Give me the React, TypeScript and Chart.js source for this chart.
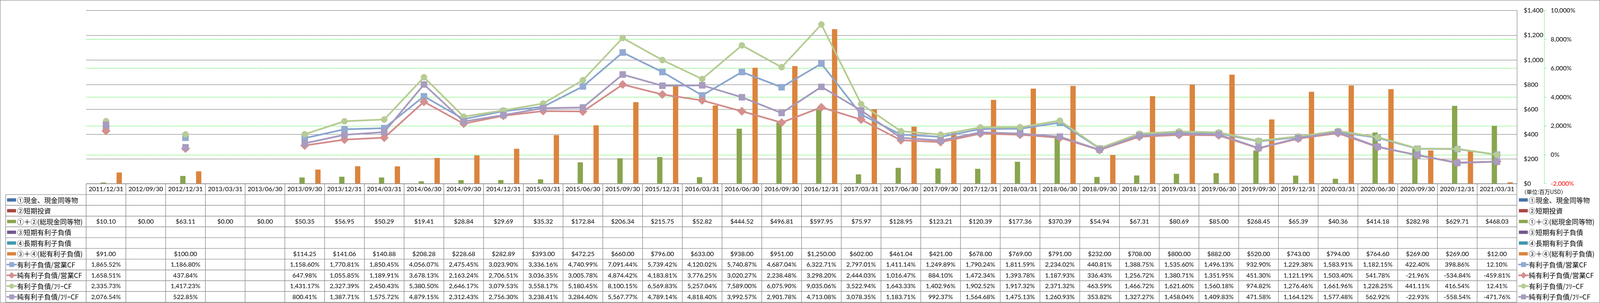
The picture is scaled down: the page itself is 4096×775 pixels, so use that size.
import React, { useEffect, useRef } from 'react';
import { Chart, registerables } from 'chart.js';

Chart.register(...registerables);

// ---------- data ----------
const categories = [
  '2011/12/31', '2012/09/30', '2012/12/31', '2013/03/31', '2013/06/30', '2013/09/30',
  '2013/12/31', '2014/03/31', '2014/06/30', '2014/09/30', '2014/12/31', '2015/03/31',
  '2015/06/30', '2015/09/30', '2015/12/31', '2016/03/31', '2016/06/30', '2016/09/30',
  '2016/12/31', '2017/03/31', '2017/06/30', '2017/09/30', '2017/12/31', '2018/03/31',
  '2018/06/30', '2018/09/30', '2018/12/31', '2019/03/31', '2019/06/30', '2019/09/30',
  '2019/12/31', '2020/03/31', '2020/06/30', '2020/09/30', '2020/12/31', '2021/03/31',
];

const cashEquivalents: (number | null)[] = [];
const shortTermInvestments: (number | null)[] = [];
const totalCash: (number | null)[] = [
  10.10, 0.00, 63.11, 0.00, 0.00, 50.35, 56.95, 50.29, 19.41, 28.84, 29.69, 35.32,
  172.84, 206.34, 215.75, 52.82, 444.52, 496.81, 597.95, 75.97, 128.95, 123.21, 120.39, 177.36,
  370.39, 54.94, 67.31, 80.69, 85.00, 268.45, 65.39, 40.36, 414.18, 282.98, 629.71, 468.03,
];
const shortTermDebt: (number | null)[] = [];
const longTermDebt: (number | null)[] = [];
const totalDebt: (number | null)[] = [
  91.00, null, 100.00, null, null, 114.25, 141.06, 140.88, 208.28, 228.68, 282.89, 393.00,
  472.25, 660.00, 796.00, 633.00, 938.00, 951.00, 1250.00, 602.00, 461.04, 421.00, 678.00, 769.00,
  791.00, 232.00, 708.00, 800.00, 882.00, 520.00, 743.00, 794.00, 764.60, 269.00, 269.00, 12.00,
];
const debtToOpCF: (number | null)[] = [
  1865.52, null, 1186.80, null, null, 1158.60, 1770.81, 1850.45, 4056.07, 2475.45, 3023.90, 3336.16,
  4740.99, 7091.44, 5739.42, 4120.02, 5740.87, 4687.04, 6322.71, 2797.01, 1411.14, 1249.89, 1790.24, 1811.59,
  2234.02, 440.81, 1388.75, 1535.60, 1496.13, 932.90, 1229.38, 1583.91, 1182.15, 422.40, 398.86, 12.10,
];
const netDebtToOpCF: (number | null)[] = [
  1658.51, null, 437.84, null, null, 647.98, 1055.85, 1189.91, 3678.13, 2163.24, 2706.51, 3036.35,
  3005.78, 4874.42, 4183.81, 3776.25, 3020.27, 2238.48, 3298.20, 2444.03, 1016.47, 884.10, 1472.34, 1393.78,
  1187.93, 336.43, 1256.72, 1380.71, 1351.95, 451.30, 1121.19, 1503.40, 541.78, -21.96, -534.84, -459.81,
];
const debtToFreeCF: (number | null)[] = [
  2335.73, null, 1417.23, null, null, 1431.17, 2327.39, 2450.43, 5380.50, 2646.17, 3079.53, 3558.17,
  5180.45, 8100.15, 6569.83, 5257.04, 7589.00, 6075.90, 9035.06, 3522.94, 1643.33, 1402.96, 1902.52, 1917.32,
  2371.32, 463.59, 1466.72, 1621.60, 1560.18, 974.82, 1276.46, 1661.96, 1228.25, 441.11, 416.54, 12.41,
];
const netDebtToFreeCF: (number | null)[] = [
  2076.54, null, 522.85, null, null, 800.41, 1387.71, 1575.72, 4879.15, 2312.43, 2756.30, 3238.41,
  3284.40, 5567.77, 4789.14, 4818.40, 3992.57, 2901.78, 4713.08, 3078.35, 1183.71, 992.37, 1564.68, 1475.13,
  1260.93, 353.82, 1327.27, 1458.04, 1409.83, 471.58, 1164.12, 1577.48, 562.92, -22.93, -558.54, -471.76,
];

const seriesLabels = [
  '①現金、現金同等物', '②短期投資', '①＋②(総現金同等物)', '③短期有利子負債', '④長期有利子負債',
  '③＋④(総有利子負債)', '有利子負債/営業CF', '純有利子負債/営業CF', '有利子負債/ﾌﾘｰCF', '純有利子負債/ﾌﾘｰCF',
];
const unitLabel = '（単位:百万USD）';

// ---------- layout / style ----------
const S = 0.723;
const W = 4096;
const H = 775;
const FONT = "Lato, 'Noto Sans CJK JP', sans-serif";
const CJK_FONT = "'Noto Sans CJK JP', Lato, sans-serif";

type Row = {
  label: string;
  data: (number | null)[];
  kind: 'bar' | 'line';
  color: string;
  fill?: string;
  marker?: 'rect' | 'rectRot' | 'circle';
  radius?: number;
};

const rows: Row[] = [
  { label: seriesLabels[0], data: cashEquivalents, kind: 'bar', color: '#4672A9' },
  { label: seriesLabels[1], data: shortTermInvestments, kind: 'bar', color: '#AA4643' },
  { label: seriesLabels[2], data: totalCash, kind: 'bar', color: '#89A54E' },
  { label: seriesLabels[3], data: shortTermDebt, kind: 'bar', color: '#71588F' },
  { label: seriesLabels[4], data: longTermDebt, kind: 'bar', color: '#4198AF' },
  { label: seriesLabels[5], data: totalDebt, kind: 'bar', color: '#DB843D' },
  { label: seriesLabels[6], data: debtToOpCF, kind: 'line', color: '#8BA6CD', fill: '#93ABD2', marker: 'rect', radius: 11 },
  { label: seriesLabels[7], data: netDebtToOpCF, kind: 'line', color: '#D28C8A', fill: '#D4908E', marker: 'rectRot', radius: 10.8 },
  { label: seriesLabels[8], data: debtToFreeCF, kind: 'line', color: '#B5CB92', fill: '#B7CC95', marker: 'circle', radius: 7.8 },
  { label: seriesLabels[9], data: netDebtToFreeCF, kind: 'line', color: '#A699BD', fill: '#A89CC0', marker: 'rect', radius: 11 },
];

const fmt = (v: number, kind: 'bar' | 'line') => {
  const s = Math.abs(v).toLocaleString('en-US', { minimumFractionDigits: 2, maximumFractionDigits: 2 });
  return kind === 'bar' ? (v < 0 ? '-$' : '$') + s : (v < 0 ? '-' : '') + s + '%';
};

function drawMarker(ctx: CanvasRenderingContext2D, style: string, x: number, y: number, r: number, fill: string, stroke: string) {
  ctx.save();
  ctx.fillStyle = fill;
  ctx.strokeStyle = stroke;
  ctx.lineWidth = 1;
  ctx.setLineDash([]);
  ctx.beginPath();
  if (style === 'circle') {
    ctx.arc(x, y, r, 0, Math.PI * 2);
  } else if (style === 'rectRot') {
    ctx.moveTo(x, y - r);
    ctx.lineTo(x + r, y);
    ctx.lineTo(x, y + r);
    ctx.lineTo(x - r, y);
    ctx.closePath();
  } else {
    ctx.rect(x - r, y - r, 2 * r, 2 * r);
  }
  ctx.fill();
  ctx.stroke();
  ctx.restore();
}

function drawLegendEntry(ctx: CanvasRenderingContext2D, row: Row, keyX: number, textX: number, yc: number) {
  if (row.kind === 'bar') {
    ctx.fillStyle = row.color;
    ctx.fillRect(keyX, yc - 11.7 * S / 2, 31.7 * S, 11.7 * S);
  } else {
    ctx.save();
    ctx.strokeStyle = row.color;
    ctx.lineWidth = 4;
    ctx.beginPath();
    ctx.moveTo(keyX - 2 * S, yc);
    ctx.lineTo(keyX + 35 * S, yc);
    ctx.stroke();
    ctx.restore();
    const cx = keyX + 16.5 * S;
    const r = row.marker === 'circle' ? 6 : row.marker === 'rectRot' ? 7.8 : 5.8;
    drawMarker(ctx, row.marker || 'rect', cx, yc, r, row.fill || row.color, row.color);
  }
  ctx.fillStyle = '#000';
  ctx.textAlign = 'left';
  ctx.textBaseline = 'middle';
  ctx.font = `17.4px ${CJK_FONT}`;
  ctx.fillText(row.label, textX, yc + 0.5);
}

const tablePlugin = {
  id: 'dataTable',
  beforeDraw(chart: any) {
    const ctx = chart.ctx as CanvasRenderingContext2D;
    ctx.save();
    ctx.fillStyle = '#FFFFFF';
    ctx.fillRect(0, 0, chart.width, chart.height);
    ctx.restore();
  },
  afterDraw(chart: any) {
    const ctx = chart.ctx as CanvasRenderingContext2D;
    const ca = chart.chartArea;
    const xs = chart.scales.x;
    const y1 = chart.scales.y1;
    const n = categories.length;
    const band = (ca.right - ca.left) / n;
    const tableLeft = 20 * S;
    const rowTop = 688.3 * S;
    const rowH = 38.1 * S;
    const bottom = rowTop + rowH * rows.length;

    ctx.save();
    // table grid
    ctx.strokeStyle = '#8C8C8C';
    ctx.lineWidth = 1.4;
    ctx.beginPath();
    for (let i = 0; i <= n; i++) {
      const xb = ca.left + band * i;
      ctx.moveTo(xb, ca.bottom);
      ctx.lineTo(xb, bottom);
    }
    ctx.moveTo(tableLeft, rowTop);
    ctx.lineTo(tableLeft, bottom);
    ctx.moveTo(ca.left, ca.bottom);
    ctx.lineTo(ca.right, ca.bottom);
    for (let r = 0; r <= rows.length; r++) {
      const yb = rowTop + rowH * r;
      ctx.moveTo(tableLeft, yb);
      ctx.lineTo(ca.right, yb);
    }
    ctx.stroke();

    // table values
    ctx.fillStyle = '#000';
    ctx.textAlign = 'center';
    ctx.textBaseline = 'middle';
    ctx.font = `16px ${FONT}`;
    rows.forEach((row, r) => {
      const yc = rowTop + rowH * (r + 0.5);
      row.data.forEach((v, i) => {
        if (v === null || v === undefined) return;
        ctx.fillText(fmt(v, row.kind), xs.getPixelForValue(i), yc + 0.5);
      });
    });

    // legend keys in the table and at the right
    rows.forEach((row, r) => {
      const yc = rowTop + rowH * (r + 0.5);
      drawLegendEntry(ctx, row, 25 * S, 60 * S, yc);
      drawLegendEntry(ctx, row, 5378 * S, 5413 * S, yc);
    });

    // unit label
    ctx.fillStyle = '#000';
    ctx.textAlign = 'left';
    ctx.textBaseline = 'middle';
    ctx.font = `14px ${CJK_FONT}`;
    ctx.fillText(unitLabel, 5386 * S, 678 * S);

    // dashed secondary axis line
    ctx.strokeStyle = '#00E600';
    ctx.lineWidth = 1;
    ctx.setLineDash([2.5, 1.8]);
    ctx.beginPath();
    ctx.moveTo(Math.round(y1.left) + 0.5, ca.top);
    ctx.lineTo(Math.round(y1.left) + 0.5, ca.bottom);
    ctx.stroke();
    ctx.setLineDash([]);

    // outer border
    ctx.strokeStyle = '#8E8E8E';
    ctx.lineWidth = 1.2;
    ctx.strokeRect(0.6, 0.6, chart.width - 1.2, chart.height - 1.2);
    ctx.restore();
  },
};

export default function App() {
  const ref = useRef<HTMLCanvasElement>(null);

  useEffect(() => {
    const canvas = ref.current;
    if (!canvas) return;
    const lineOrder = [4, 3, 2, 1];
    let li = 0;
    const datasets: any[] = rows.map((row) => {
      if (row.kind === 'bar') {
        return {
          type: 'bar',
          label: row.label,
          data: row.data,
          backgroundColor: row.color,
          borderWidth: 0,
          yAxisID: 'y',
          categoryPercentage: 0.797,
          barPercentage: 1.0,
          order: 10,
        };
      }
      const ds = {
        type: 'line',
        label: row.label,
        data: row.data,
        borderColor: row.color,
        backgroundColor: row.fill,
        borderWidth: 4.3,
        pointStyle: row.marker,
        pointRadius: row.radius,
        pointHoverRadius: row.radius,
        pointBackgroundColor: row.fill,
        pointBorderColor: row.color,
        pointBorderWidth: 1,
        tension: 0,
        spanGaps: false,
        fill: false,
        yAxisID: 'y1',
        order: lineOrder[li],
      };
      li++;
      return ds;
    });

    const chart = new Chart(canvas, {
      type: 'bar',
      data: { labels: categories, datasets },
      plugins: [tablePlugin],
      options: {
        responsive: false,
        animation: false,
        devicePixelRatio: 1,
        events: [],
        layout: { padding: { left: 305 * S, top: 15.6 * S, right: 0, bottom: 0 } },
        plugins: {
          legend: { display: false },
          tooltip: { enabled: false },
          title: { display: false },
        },
        scales: {
          x: {
            type: 'category',
            offset: true,
            grid: { display: false, drawTicks: false },
            border: { display: false },
            ticks: {
              autoSkip: false,
              maxRotation: 0,
              minRotation: 0,
              padding: 4.2,
              color: '#000',
              font: { family: FONT, size: 16 },
            },
            afterFit: (s: any) => { s.height = H - 650 * S; },
          },
          y: {
            type: 'linear',
            position: 'right',
            min: 0,
            max: 1400,
            ticks: {
              stepSize: 200,
              padding: 17.4,
              color: '#000',
              font: { family: FONT, size: 16 },
              callback: (v: any) => '$' + Number(v).toLocaleString('en-US'),
            },
            grid: { color: '#898989', lineWidth: 1.3, drawTicks: false },
            border: { display: true, color: '#898989', width: 1.3 },
            afterFit: (s: any) => { s.width = (5467.3 - 5371) * S; },
          },
          y1: {
            type: 'linear',
            position: 'right',
            min: -2000,
            max: 10000,
            ticks: {
              stepSize: 2000,
              padding: 11.2,
              color: (c: any) => (c.tick && c.tick.value < 0 ? '#FF0000' : '#000'),
              font: { family: FONT, size: 16 },
              callback: (v: any) => Number(v).toLocaleString('en-US') + '%',
            },
            grid: {
              color: (c: any) => (c.tick && (c.tick.value === -2000 || c.tick.value === 10000) ? 'rgba(0,0,0,0)' : '#00E600'),
              lineWidth: 1,
              drawTicks: true,
              tickLength: 5.8,
              tickColor: '#00E600',
              tickWidth: 1,
              tickBorderDash: [2, 1.5],
            },
            border: { display: false, dash: [2.8, 1.8] },
            afterFit: (s: any) => { s.width = W - 5467.3 * S; },
          },
        },
      } as any,
    });
    return () => chart.destroy();
  }, []);

  return (
    <div style={{ position: 'fixed', left: 0, top: 0, width: W, height: H, background: '#fff' }}>
      <canvas ref={ref} width={W} height={H} style={{ display: 'block', width: `${W}px`, height: `${H}px` }} />
    </div>
  );
}
